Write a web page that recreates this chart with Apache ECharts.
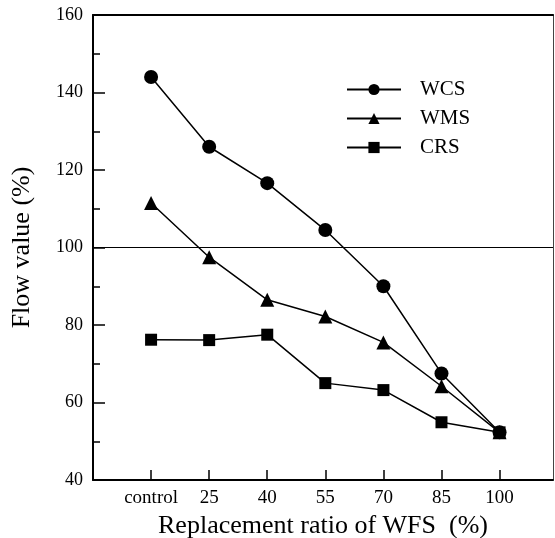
<!DOCTYPE html>
<html>
<head>
<meta charset="utf-8">
<script src="https://cdn.jsdelivr.net/npm/echarts@6/dist/echarts.min.js"></script>
<style>
  html, body { margin: 0; padding: 0; background: #fff; }
  #chart { width: 555px; height: 538px; }
</style>
</head>
<body>
<div id="chart"></div>
<script>
const categories = ['control', '25', '40', '55', '70', '85', '100']
const wcs = [144, 126, 116.6, 104.5, 90, 67.5, 52.3]
const wms = [111.5, 97.5, 86.5, 82.2, 75.5, 64.2, 52.3]
const crs = [76.2, 76.1, 77.5, 65, 63.2, 54.9, 52.3]
const yTicks = [40, 60, 80, 100, 120, 140, 160]

const font = 'Liberation Serif'
const chart = echarts.init(document.getElementById('chart'))

const toPairs = arr => arr.map((v, i) => [i, v])

function lineSeries(name, data, symbol, size) {
  return {
    name: name,
    type: 'line',
    data: toPairs(data),
    symbol: symbol,
    symbolSize: size,
    lineStyle: { color: '#000', width: 1.5 },
    itemStyle: { color: '#000' },
    emphasis: { disabled: true },
    z: 3
  }
}

const series = [
  lineSeries('WCS', wcs, 'circle', 14),
  lineSeries('WMS', wms, 'triangle', 14),
  lineSeries('CRS', crs, 'rect', 12)
]
// reference line at 100
series[0].markLine = {
  silent: true,
  symbol: 'none',
  label: { show: false },
  lineStyle: { color: '#000', width: 1, type: 'solid' },
  data: [{ yAxis: 100 }]
}

chart.setOption({
  animation: false,
  grid: { left: 93, top: 15, right: 2, bottom: 58, outerBoundsMode: 'none' },
  legend: {
    orient: 'vertical',
    left: 341,
    top: 74,
    itemWidth: 54,
    itemHeight: 14,
    itemGap: 8,
    textStyle: { fontFamily: font, fontSize: 21, color: '#000', padding: [0, 0, 0, 14] },
    data: ['WCS', 'WMS', 'CRS']
  },
  xAxis: [{
    type: 'value',
    min: -1,
    max: 6.92,
    interval: 1,
    name: 'Replacement ratio of WFS  (%)',
    nameLocation: 'middle',
    nameGap: 26,
    nameTextStyle: { fontFamily: font, fontSize: 26, color: '#000' },
    axisLine: { onZero: false, lineStyle: { color: '#000', width: 2 } },
    axisTick: { inside: true, length: 10, lineStyle: { color: '#000', width: 1.5 }, customValues: [0, 1, 2, 3, 4, 5, 6] },
    axisLabel: {
      fontFamily: font, fontSize: 19, color: '#000', margin: 9,
      customValues: [0, 1, 2, 3, 4, 5, 6],
      formatter: v => categories[v] || ''
    },
    splitLine: { show: false }
  }, {
    type: 'value',
    position: 'top',
    min: -1,
    max: 6.92,
    axisLine: { show: true, onZero: false, lineStyle: { color: '#000', width: 2 } },
    axisTick: { show: false },
    axisLabel: { show: false },
    splitLine: { show: false }
  }],
  yAxis: [{
    type: 'value',
    min: yTicks[0],
    max: yTicks[yTicks.length - 1],
    interval: 20,
    name: 'Flow value (%)',
    nameLocation: 'middle',
    nameGap: 58,
    nameTextStyle: { fontFamily: font, fontSize: 26, color: '#000' },
    axisLine: { show: true, onZero: false, lineStyle: { color: '#000', width: 2 } },
    axisTick: { inside: true, length: 12, lineStyle: { color: '#000', width: 1.5 } },
    minorTick: { show: true, splitNumber: 2, length: 7, lineStyle: { color: '#000', width: 1.5 } },
    axisLabel: { fontFamily: font, fontSize: 18, color: '#000', margin: 10 },
    splitLine: { show: false }
  }, {
    type: 'value',
    position: 'right',
    min: yTicks[0],
    max: yTicks[yTicks.length - 1],
    axisLine: { show: true, onZero: false, lineStyle: { color: '#444', width: 1 } },
    axisTick: { show: false },
    axisLabel: { show: false },
    splitLine: { show: false }
  }],
  series: series
})
</script>
</body>
</html>
